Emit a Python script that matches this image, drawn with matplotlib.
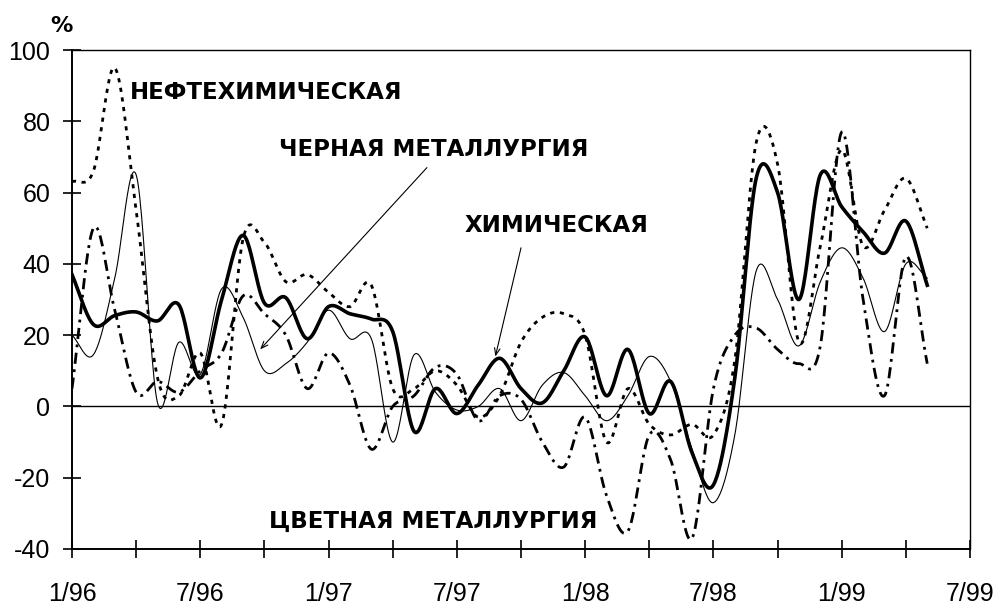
import numpy as np
import matplotlib
matplotlib.use("Agg")
import matplotlib.pyplot as plt

# ---------------- data (monthly, 1/96 .. 5/99) ----------------
months = list(range(41))  # 0 = 1/96
khim = [37, 23, 25.5, 26.5, 24, 28.5, 8, 30, 48, 29, 30.5, 19, 28, 26, 24.5, 21,
        -7, 5, -2, 6, 13.5, 5, 1, 10, 19.5, 3, 16, -2, 7, -13, -22, 8, 64, 60,
        30, 65, 56, 49, 43, 52, 34]
chern = [20, 14.5, 36, 65, 1, 18, 9, 33, 25, 10, 12, 18, 27, 19, 19, -10, 14.5,
         4, -1, 0, 5, -4, 6, 9.5, 3, -4, 3, 14, 7, -12, -27, -8, 38, 30, 17, 35,
         44.5, 36, 21, 40, 36]
nefte = [63, 66, 95, 55, 8, 3, 15, -5, 47, 46, 35, 37, 32, 28, 34, 5, 5, 10, 6,
         -3, 3, 18, 25, 26, 20, -10, 5, -5, -8, -5, -8, 13, 74, 68, 18, 45, 72,
         45, 55, 64, 50]
tsvet = [5, 50, 27, 4, 7, 4, 10, 15, 31, 26, 20, 5, 15, 6, -12, 0, 3, 11, 9, -4,
         3, 2, -10, -17, -3, -25, -35, -8, -15, -37, 5, 20, 22, 16, 12, 17, 77,
         30, 3, 42, 12]

xtick_pos = [0, 6, 12, 18, 24, 30, 36, 42]
xtick_labels = ["1/96", "7/96", "1/97", "7/97", "1/98", "7/98", "1/99", "7/99"]
yticks = [-40, -20, 0, 20, 40, 60, 80, 100]


def smooth(x, y, n=24):
    """Catmull-Rom smoothing (like Excel 'smoothed line')."""
    x = np.asarray(x, float)
    y = np.asarray(y, float)
    px = np.concatenate([[2 * x[0] - x[1]], x, [2 * x[-1] - x[-2]]])
    py = np.concatenate([[2 * y[0] - y[1]], y, [2 * y[-1] - y[-2]]])
    xs, ys = [], []
    t = np.linspace(0, 1, n, endpoint=False)
    for i in range(1, len(px) - 2):
        for P, out in ((px, xs), (py, ys)):
            p0, p1, p2, p3 = P[i - 1], P[i], P[i + 1], P[i + 2]
            out.append(0.5 * ((2 * p1) + (-p0 + p2) * t +
                              (2 * p0 - 5 * p1 + 4 * p2 - p3) * t ** 2 +
                              (-p0 + 3 * p1 - 3 * p2 + p3) * t ** 3))
    xs.append([x[-1]])
    ys.append([y[-1]])
    return np.concatenate(xs), np.concatenate(ys)


plt.rcParams["lines.scale_dashes"] = False
plt.rcParams["axes.unicode_minus"] = False
plt.rcParams["font.family"] = ["Liberation Sans", "DejaVu Sans"]

fig = plt.figure(figsize=(9.98, 6.05), dpi=100)
ax = fig.add_axes([72 / 998, 56 / 605, 898 / 998, 499 / 605])

ax.axhline(0, color="black", lw=1.0, zorder=1)

sx, sy = smooth(months, chern)
ax.plot(sx, sy, color="black", lw=0.8, zorder=3)
sx, sy = smooth(months, khim)
ax.plot(sx, sy, color="black", lw=2.6, zorder=4)
sx, sy = smooth(months, nefte)
ax.plot(sx, sy, color="black", lw=2.0, dashes=(3, 4), zorder=2)
sx, sy = smooth(months, tsvet)
ax.plot(sx, sy, color="black", lw=2.0, dashes=(8, 4, 2, 4), zorder=2)

ax.set_xlim(0, 42)
ax.set_ylim(-40, 100)
ax.set_xticks(xtick_pos)
ax.set_xticklabels(xtick_labels)
ax.set_xticks(list(range(3, 42, 6)), minor=True)
ax.set_yticks(yticks)
ax.tick_params(axis="both", which="both", direction="inout", length=13,
               width=1.2, color="black", labelsize=18)
ax.tick_params(axis="x", which="both", pad=17)
ax.tick_params(axis="y", pad=9)
for sp in ax.spines.values():
    sp.set_linewidth(1.4)
    sp.set_color("black")
ax.spines["top"].set_linewidth(1.0)
ax.spines["right"].set_linewidth(1.0)
ax.set_facecolor("white")

fig.text(50 / 998, 1 - 26 / 605, "%", fontsize=16, fontweight="bold",
         va="center", ha="left", family=["DejaVu Sans"])

lbl = dict(fontsize=16.5, fontweight="bold", va="center", ha="left",
           family=["DejaVu Sans"])
ax.text(2.72, 88.2, "НЕФТЕХИМИЧЕСКАЯ", **lbl)
ax.text(9.7, 72, "ЧЕРНАЯ МЕТАЛЛУРГИЯ", **lbl)
ax.text(18.35, 50.7, "ХИМИЧЕСКАЯ", **lbl)
ax.text(9.2, -32.2, "ЦВЕТНАЯ МЕТАЛЛУРГИЯ", **lbl)

arrow = dict(arrowstyle="->,head_length=0.5,head_width=0.2", lw=0.8,
             color="black", shrinkA=0, shrinkB=0)
ax.annotate("", xy=(8.8, 16), xytext=(16.6, 67), arrowprops=arrow)
ax.annotate("", xy=(19.8, 14), xytext=(21.0, 44.5), arrowprops=arrow)

fig.savefig("out.png", dpi=100, facecolor="white")
